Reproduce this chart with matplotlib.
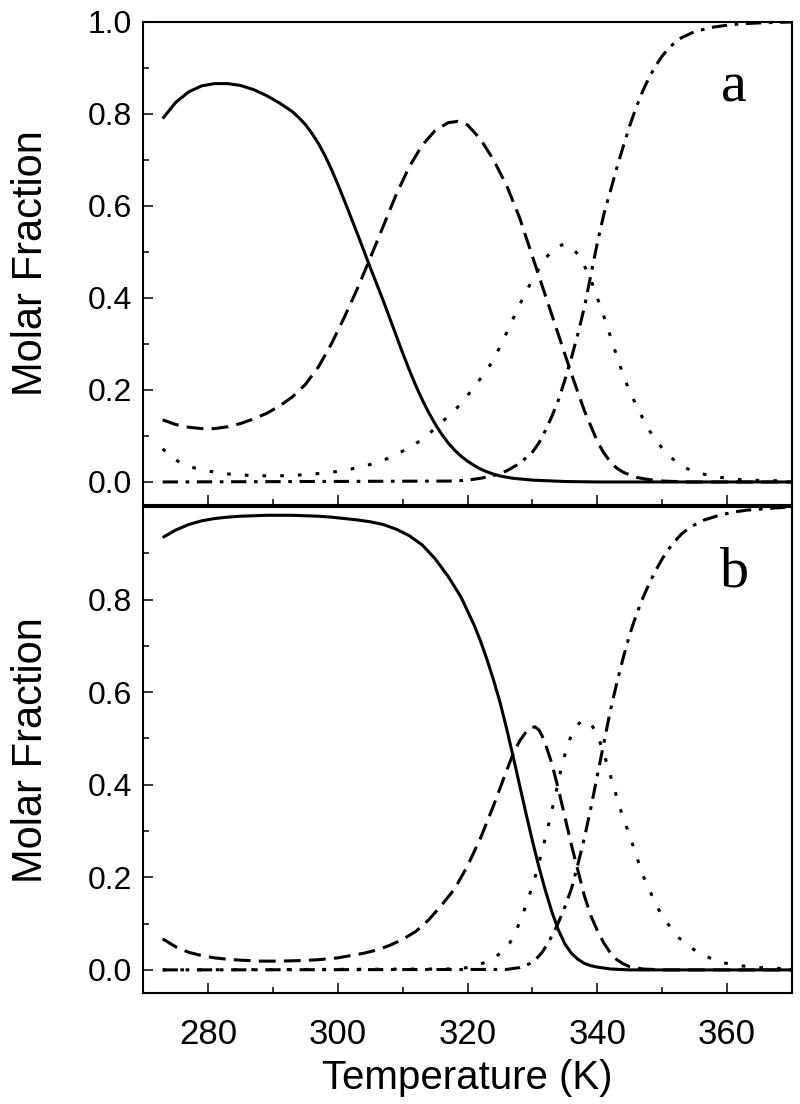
import numpy as np
from matplotlib import pyplot as plt
from matplotlib.ticker import MultipleLocator

plt.rcParams['font.family'] = ['Liberation Sans', 'DejaVu Sans']

# ---- panel a: molar fraction vs temperature ----
a_solid_T = [273, 275, 277, 279, 281, 283, 285, 287, 289, 291, 293, 294, 295, 296, 297, 298,
             299, 300, 301, 302, 303, 304, 305, 306, 307, 308, 309, 310, 311, 312, 313, 314,
             315, 316, 317, 318, 319, 320, 321, 322, 323, 324, 325, 327, 330, 335, 340, 370]
a_solid = [0.79, 0.825, 0.848, 0.861, 0.866, 0.866, 0.862, 0.853, 0.84, 0.824, 0.805, 0.792,
           0.777, 0.758, 0.736, 0.71, 0.68, 0.647, 0.612, 0.576, 0.54, 0.503, 0.466, 0.43,
           0.394, 0.356, 0.318, 0.28, 0.244, 0.21, 0.179, 0.151, 0.126, 0.104, 0.085, 0.069,
           0.056, 0.045, 0.036, 0.028, 0.022, 0.017, 0.013, 0.008, 0.004, 0.001, 0.0, 0.0]

a_dash_T = [273, 275, 277, 279, 281, 283, 285, 287, 289, 291, 293, 295, 297, 299, 301, 303,
            305, 307, 309, 311, 313, 315, 317, 318.5, 320, 322, 324, 326, 328, 330, 332, 334,
            336, 338, 340, 341, 342, 343, 344, 346, 348, 350, 354, 370]
a_dash = [0.135, 0.125, 0.119, 0.116, 0.116, 0.12, 0.127, 0.137, 0.149, 0.165, 0.185, 0.212,
          0.25, 0.30, 0.358, 0.42, 0.487, 0.556, 0.625, 0.685, 0.732, 0.764, 0.781, 0.784,
          0.776, 0.745, 0.70, 0.645, 0.575, 0.49, 0.405, 0.32, 0.235, 0.155, 0.088, 0.063,
          0.044, 0.03, 0.021, 0.01, 0.005, 0.002, 0.0, 0.0]

a_dot_T = [273, 274.5, 276, 278, 280, 282, 284, 287, 290, 293, 296, 299, 302, 305, 307.5, 310,
           312, 314, 316, 318, 320, 322, 324, 326, 328, 330, 332, 334, 335, 336, 337, 338,
           339, 340, 341, 342, 343, 344, 345, 346.5, 348, 350, 352, 354, 356, 359, 362, 366, 370]
a_dot = [0.072, 0.052, 0.04, 0.03, 0.024, 0.019, 0.016, 0.014, 0.013, 0.014, 0.017, 0.021,
         0.028, 0.038, 0.05, 0.067, 0.083, 0.104, 0.13, 0.155, 0.188, 0.225, 0.265, 0.324,
         0.385, 0.44, 0.487, 0.513, 0.517, 0.51, 0.495, 0.47, 0.44, 0.40, 0.36, 0.317, 0.273,
         0.232, 0.196, 0.152, 0.112, 0.073, 0.045, 0.028, 0.018, 0.01, 0.005, 0.003, 0.002]

a_dd_T = [273, 318, 320, 322, 324, 326, 328, 330, 331, 332, 333, 334, 335, 336, 337, 338, 339,
          340, 341, 342, 343, 344, 345, 346, 347, 348, 349, 350, 351, 352, 353, 355, 357.5,
          360, 362, 365, 370]
a_dd = [0.0, 0.002, 0.004, 0.008, 0.014, 0.024, 0.04, 0.065, 0.085, 0.112, 0.143, 0.178, 0.222,
        0.27, 0.322, 0.38, 0.45, 0.52, 0.582, 0.632, 0.683, 0.73, 0.775, 0.815, 0.85, 0.88,
        0.905, 0.926, 0.943, 0.956, 0.966, 0.979, 0.988, 0.993, 0.996, 0.998, 1.0]

# ---- panel b ----
b_solid_T = [273, 275, 277, 279, 281, 283, 285, 287, 289, 291, 293, 295, 297, 299, 301, 303,
             305, 307, 309, 311, 313, 315, 317, 319, 321, 322, 323, 324, 325, 326, 327, 328,
             329, 330, 331, 332, 333, 334, 335, 336, 337, 338, 339, 340, 342, 345, 370]
b_solid = [0.934, 0.95, 0.962, 0.97, 0.975, 0.978, 0.98, 0.981, 0.982, 0.982, 0.982, 0.981,
           0.98, 0.978, 0.975, 0.972, 0.968, 0.962, 0.952, 0.938, 0.918, 0.888, 0.85, 0.805,
           0.745, 0.71, 0.67, 0.626, 0.578, 0.522, 0.462, 0.40, 0.338, 0.278, 0.222, 0.171,
           0.125, 0.086, 0.056, 0.036, 0.023, 0.014, 0.009, 0.006, 0.002, 0.0, 0.0]

b_dash_T = [273, 275, 277, 279, 281, 283, 285, 288, 291, 294, 297, 300, 302, 304, 306, 308,
            310, 312, 314, 316, 318, 320, 322, 324, 326, 327, 328, 329, 329.7, 330.4, 331,
            331.5, 332, 333, 334, 335, 336, 337, 338, 339, 340, 341, 342, 343, 344, 345, 347,
            350, 370]
b_dash = [0.067, 0.05, 0.038, 0.031, 0.026, 0.023, 0.021, 0.019, 0.019, 0.02, 0.022, 0.026,
          0.031, 0.036, 0.043, 0.053, 0.066, 0.083, 0.108, 0.14, 0.175, 0.225, 0.285, 0.355,
          0.43, 0.466, 0.494, 0.514, 0.523, 0.525, 0.518, 0.505, 0.488, 0.445, 0.39, 0.33,
          0.27, 0.215, 0.16, 0.117, 0.085, 0.058, 0.037, 0.022, 0.013, 0.007, 0.002, 0.0, 0.0]

b_dot_T = [273, 318, 320, 321.5, 323, 324.5, 325.5, 326.5, 327.5, 328.5, 329.5, 330.5, 331.5,
           332.5, 333.5, 334.5, 335.5, 336.5, 337.5, 338.2, 339, 340, 341, 342, 343, 344, 345,
           346, 347, 348.5, 350, 352.5, 355.5, 358.8, 362, 365, 370]
b_dot = [0.0, 0.002, 0.005, 0.01, 0.018, 0.03, 0.042, 0.058, 0.085, 0.12, 0.16, 0.205, 0.258,
         0.315, 0.375, 0.44, 0.49, 0.522, 0.537, 0.539, 0.532, 0.508, 0.468, 0.42, 0.372,
         0.327, 0.29, 0.247, 0.205, 0.158, 0.115, 0.07, 0.037, 0.017, 0.009, 0.005, 0.002]

b_dd_T = [273, 326, 328, 329.5, 330.6, 331.5, 332.6, 333.6, 334.7, 336, 337, 338, 339, 340,
          341, 342, 343, 344, 345, 346, 347, 348, 349, 350, 351, 352, 353, 354.5, 356.5,
          358.8, 361, 363, 367.5, 370]
b_dd = [0.0, 0.001, 0.005, 0.013, 0.024, 0.038, 0.063, 0.09, 0.125, 0.175, 0.228, 0.285, 0.35,
        0.42, 0.49, 0.56, 0.62, 0.675, 0.725, 0.767, 0.803, 0.835, 0.863, 0.888, 0.909,
        0.927, 0.942, 0.958, 0.972, 0.982, 0.989, 0.993, 0.998, 1.0]

panels = [
    (a_solid_T, a_solid, a_dash_T, a_dash, a_dot_T, a_dot, a_dd_T, a_dd, "a"),
    (b_solid_T, b_solid, b_dash_T, b_dash, b_dot_T, b_dot, b_dd_T, b_dd, "b"),
]

fig = plt.figure(figsize=(8, 11.04), dpi=100)
ax1 = fig.add_axes([0.179, 0.5426, 0.811, 0.4375])
ax2 = fig.add_axes([0.179, 0.1005, 0.811, 0.4403])
axes = [ax1, ax2]

lw = 2.2
for ax, p in zip(axes, panels):
    sT, s, dT, d, oT, o, ddT, dd, tag = p
    ax.plot(sT, s, color='black', lw=lw, solid_capstyle='butt')
    ax.plot(dT, d, color='black', lw=lw, dashes=(5.5, 2.7))
    ax.plot(oT, o, color='black', lw=lw, dashes=(1.2, 4.6))
    ax.plot(ddT, dd, color='black', lw=lw, dashes=(5, 2.5, 1.2, 2.5))

    ax.set_xlim(270, 370)
    ax.set_ylim(-0.05, 1.0)
    ax.xaxis.set_major_locator(MultipleLocator(20))
    ax.xaxis.set_minor_locator(MultipleLocator(10))
    ax.yaxis.set_major_locator(MultipleLocator(0.2))
    ax.yaxis.set_minor_locator(MultipleLocator(0.1))
    ax.tick_params(which='both', direction='in', top=False, right=False, width=1.1)
    ax.tick_params(which='major', length=7.5, pad=8, labelsize=23)
    ax.tick_params(which='minor', length=4)
    for sp in ax.spines.values():
        sp.set_linewidth(1.5)

    ax.set_ylabel("Molar Fraction", fontsize=30)
    ax.yaxis.set_label_coords(-0.142, 0.5)
    ax.text(0.911, 0.836, tag, transform=ax.transAxes, ha='center', va='baseline',
            fontsize=42, family='Liberation Serif')

ax1.tick_params(axis='x', labelbottom=False)
ax1.set_yticks([0.0, 0.2, 0.4, 0.6, 0.8, 1.0])
ax1.set_yticklabels(["0.0", "0.2", "0.4", "0.6", "0.8", "1.0"])
ax2.set_yticks([0.0, 0.2, 0.4, 0.6, 0.8])
ax2.set_yticklabels(["0.0", "0.2", "0.4", "0.6", "0.8"])
ax2.tick_params(axis='x', labelsize=25, pad=18)
ax2.set_xlabel("Temperature (K)", fontsize=29, labelpad=6)

fig.savefig("out.png", dpi=100)
